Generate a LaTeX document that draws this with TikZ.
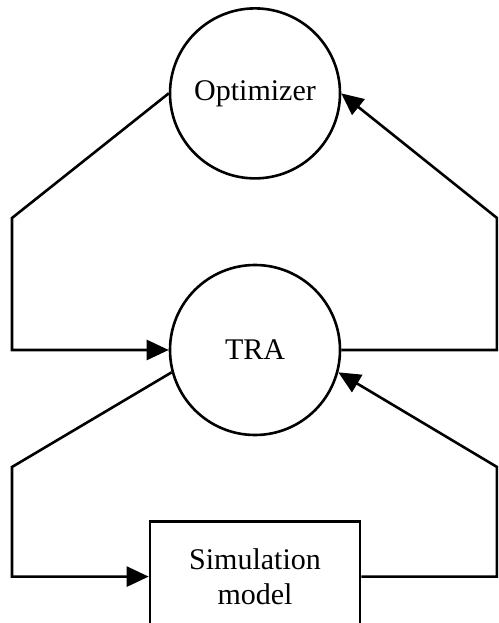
\documentclass[tikz,border=0pt]{standalone}
\usepackage{fontspec}
\setmainfont{Liberation Serif}
\usetikzlibrary{positioning,arrows.meta}

\begin{document}
\begin{tikzpicture}[x=1pt, y=1pt, node distance = 84pt,
    proc/.style={draw, circle, line width=2.6pt, minimum size=170pt, inner sep=0pt,
                 font=\fontsize{30}{34}\selectfont},
    simbox/.style={draw, rectangle, line width=2.6pt, minimum width=210pt, minimum height=110pt,
                   align=center, font=\fontsize{30}{35}\selectfont},
    link/.style={line width=2.6pt, -{Triangle[length=22pt,width=20pt]}}]
    \useasboundingbox (0,0) rectangle (498,623);
    \clip (0,0) rectangle (498,623);

    \node[proc] (tra) at (255,273) {TRA};
    \node[proc, above=of tra] (opt) {Optimizer};
    \node[simbox, below=of tra] (sim) {Simulation\\model};

    \coordinate (l1) at (12,405);
    \coordinate (r1) at (497,405);
    \coordinate (l2) at (12,156);
    \coordinate (r2) at (497,156);

    \draw[link] (opt.west) -- (l1) |- (tra.west);
    \draw[link] (tra.east) -| (r1) -- (opt.east);
    \draw[link] (tra.195) -- (l2) |- (sim.west);
    \draw[link] (sim.east) -| (r2) -- (tra.-15);
\end{tikzpicture}
\end{document}
